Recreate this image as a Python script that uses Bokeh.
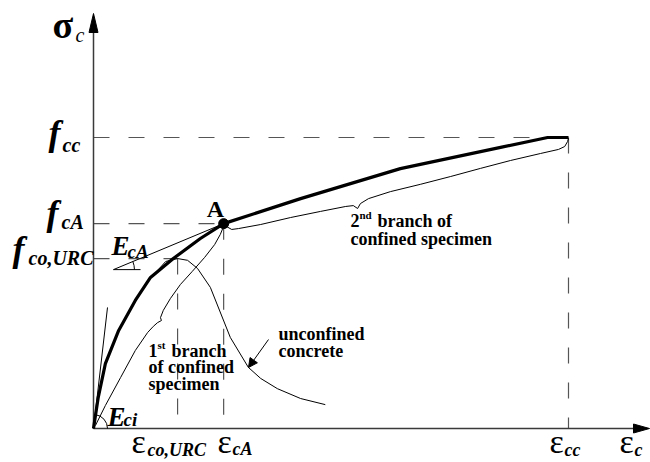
import math
from bokeh.plotting import figure
from bokeh.models import Range1d, Label, Arrow, NormalHead
from bokeh.embed import file_html
from bokeh.resources import INLINE

# ---------------- data (strain normalised by eps_cc, stress by f_cc) ----------------
eps_cc, f_cc = 1.0, 1.0
eps_cA, f_cA = 0.274, 0.704
eps_co, f_co = 0.177, 0.584

conf_strain = [0.0, 0.010, 0.025, 0.053, 0.088, 0.120, 0.168, 0.225, 0.274, 0.436, 0.646, 0.857, 0.956, 1.0]
conf_stress = [0.0, 0.107, 0.223, 0.337, 0.440, 0.519, 0.584, 0.653, 0.704, 0.790, 0.893, 0.966, 1.0, 1.0]

unconf_strain = [0.131, 0.152, 0.177, 0.198, 0.219, 0.246, 0.288, 0.326, 0.352, 0.387, 0.436, 0.488]
unconf_stress = [0.536, 0.574, 0.584, 0.578, 0.550, 0.485, 0.313, 0.210, 0.172, 0.137, 0.103, 0.082]

brace1_strain = [0.004, 0.025, 0.057, 0.088, 0.114, 0.126, 0.135, 0.143, 0.141, 0.147, 0.162, 0.183, 0.208, 0.234, 0.255, 0.267, 0.272]
brace1_stress = [0.010, 0.079, 0.175, 0.268, 0.330, 0.351, 0.364, 0.371, 0.381, 0.406, 0.447, 0.495, 0.540, 0.588, 0.632, 0.667, 0.687]

brace2_strain = [0.280, 0.291, 0.305, 0.352, 0.415, 0.478, 0.531, 0.547, 0.556, 0.562, 0.579, 0.625, 0.688,
                 0.752, 0.815, 0.878, 0.941, 0.979, 0.992, 0.998, 1.0]
brace2_stress = [0.694, 0.684, 0.687, 0.701, 0.725, 0.746, 0.763, 0.766, 0.756, 0.773, 0.790, 0.814, 0.839,
                 0.866, 0.894, 0.921, 0.945, 0.959, 0.969, 0.986, 0.997]

Eci_strain = [0.0, 0.0295]
Eci_stress = [0.0, 0.416]
EcA_strain = [0.042, eps_cA]
EcA_stress = [0.546, f_cA]
EcA_leg_strain = [0.042, 0.099]

# ---------------- geometry of the drawing ----------------
SX, SY = 475.0, 291.0      # px per unit
OX, OY = 93.0, 428.0       # origin in pixels


def X(px):
    return (px - OX) / SX


def Y(py):
    return (OY - py) / SY


W, H = 650, 462
p = figure(width=W, height=H, output_backend="svg", toolbar_location=None,
           x_range=Range1d(X(0), X(W)), y_range=Range1d(Y(H), Y(0)),
           x_axis_type=None, y_axis_type=None, min_border=0)
p.outline_line_color = None
p.background_fill_color = "white"
p.border_fill_color = "white"

AX = "#3a3a3a"
DASH = "#555555"

# dashed guides
for e, f in [(eps_cc, f_cc), (eps_cA, f_cA), (eps_co, f_co)]:
    p.line([0, e], [f, f], line_color=DASH, line_width=1.2, line_dash="16 19")
    p.line([e, e], [f, 0], line_color=DASH, line_width=1.2, line_dash="16 19")

# axes
p.line([0, 0], [0, Y(30)], line_color=AX, line_width=1.5)
p.line([0, X(636)], [0, 0], line_color=AX, line_width=1.5)
p.patch([X(93), X(88.5), X(97.5)], [Y(13), Y(32), Y(32)], fill_color="black", line_color="black")
p.patch([X(649), X(633), X(633)], [Y(428), Y(423.5), Y(432.5)], fill_color="black", line_color="black")

# curves
p.line(conf_strain, conf_stress, line_color="black", line_width=3.2, line_join="round")
p.line(unconf_strain, unconf_stress, line_color="black", line_width=1)
p.line(brace1_strain, brace1_stress, line_color="black", line_width=1)
p.line(brace2_strain, brace2_stress, line_color="black", line_width=1)
p.line(Eci_strain, Eci_stress, line_color="black", line_width=1)
p.line(EcA_strain, EcA_stress, line_color="black", line_width=1)
p.line(EcA_leg_strain, [EcA_stress[0], EcA_stress[0]], line_color="black", line_width=1)

a_ci = math.atan2(Eci_stress[1] * SY, Eci_strain[1] * SX)
p.arc(x=[0], y=[0], radius=14, radius_units="screen", start_angle=0, end_angle=a_ci,
      line_color="black", line_width=1)
a_cA = math.atan2((EcA_stress[1] - EcA_stress[0]) * SY, (EcA_strain[1] - EcA_strain[0]) * SX)
p.arc(x=[EcA_strain[0]], y=[EcA_stress[0]], radius=21, radius_units="screen", start_angle=0,
      end_angle=a_cA, line_color="black", line_width=1)

p.scatter([eps_cA], [f_cA], size=10, color="black")

p.add_layout(Arrow(end=NormalHead(size=9, fill_color="black", line_color="black"),
                   x_start=X(268), y_start=Y(339), x_end=X(248), y_end=Y(367),
                   line_color="black", line_width=1))

# ---------------- texts ----------------
FONT = "Liberation Serif"


def txt(s, rx, ry, size, style="bold", align="left"):
    lift = 0.22 * size + 1
    p.add_layout(Label(x=X(rx), y=Y(ry - lift), text=s, text_font=FONT, text_font_size=f"{size}px",
                       text_font_style=style, text_align=align, text_baseline="alphabetic",
                       text_color="black"))


txt("σ", 52, 34, 38, "bold")
txt("c", 75, 40, 20, "italic")

txt("f", 48, 141, 36, "bold italic")
txt("cc", 62, 150, 20, "bold italic")
txt("f", 46, 221, 36, "bold italic")
txt("cA", 61, 227, 20, "bold italic")
txt("f", 12, 257, 36, "bold italic")
txt("co,URC", 28, 263, 20, "bold italic")

txt("ε", 131, 449, 34, "normal")
txt("co,URC", 147, 454, 18, "bold italic")
txt("ε", 217, 449, 34, "normal")
txt("cA", 232, 453, 18, "bold italic")
txt("ε", 549, 449, 34, "normal")
txt("cc", 564, 454, 18, "bold italic")
txt("ε", 619, 449, 34, "normal")
txt("c", 634, 454, 18, "bold italic")

txt("A", 215, 215, 24, "bold", "center")
txt("E", 111, 252, 27, "bold italic")
txt("cA", 127, 256, 19, "bold italic")
txt("E", 107, 423, 27, "bold italic")
txt("ci", 123, 424, 19, "bold italic")

txt("1", 148, 355, 18, "bold")
txt("st", 157, 348, 11, "bold")
txt("branch", 171, 355, 18, "bold")
txt("of confined", 148, 371, 18, "bold")
txt("specimen", 148, 388, 18, "bold")

txt("unconfined", 278, 338, 18, "bold")
txt("concrete", 278, 355, 18, "bold")

txt("2", 350, 225, 18, "bold")
txt("nd", 359, 218, 11, "bold")
txt("branch of", 377, 225, 18, "bold")
txt("confined specimen", 350, 243, 18, "bold")

open("out.html", "w").write(file_html(p, INLINE))
